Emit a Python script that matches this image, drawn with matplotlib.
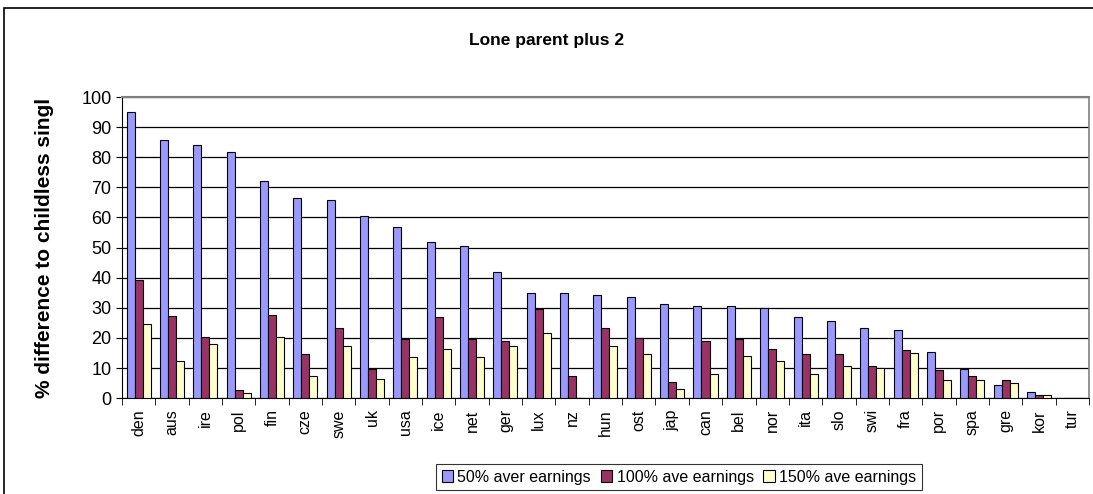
import matplotlib.pyplot as plt
import numpy as np
from matplotlib.patches import Rectangle

plt.rcParams['font.family'] = ['Liberation Sans', 'DejaVu Sans']

countries = ["den", "aus", "ire", "pol", "fin", "cze", "swe", "uk", "usa", "ice",
             "net", "ger", "lux", "nz", "hun", "ost", "jap", "can", "bel", "nor",
             "ita", "slo", "swi", "fra", "por", "spa", "gre", "kor", "tur"]
earn_50 = [95.0, 85.7, 84.0, 81.8, 72.0, 66.4, 65.8, 60.5, 57.0, 51.7,
           50.4, 42.0, 34.9, 34.9, 34.4, 33.5, 31.3, 30.7, 30.7, 30.0,
           27.0, 25.6, 23.4, 22.5, 15.4, 9.7, 4.4, 2.1, 0.0]
earn_100 = [39.3, 27.4, 20.2, 2.8, 27.7, 14.5, 23.4, 9.7, 19.5, 27.0,
            19.5, 18.9, 29.6, 7.4, 23.3, 20.0, 5.5, 18.9, 19.5, 16.4,
            14.5, 14.5, 10.7, 15.9, 9.2, 7.5, 6.1, 1.2, 0.0]
earn_150 = [24.6, 12.3, 18.1, 1.8, 20.3, 7.5, 17.2, 6.5, 13.7, 16.4,
            13.7, 17.2, 21.5, 0.0, 17.2, 14.5, 3.0, 7.9, 14.1, 12.3,
            7.9, 10.7, 10.1, 15.0, 6.1, 6.1, 5.2, 1.2, 0.0]
series_labels = ["50% aver earnings", "100% ave earnings", "150% ave earnings"]
colors = ["#9999FF", "#993366", "#FFFFCC"]

fig = plt.figure(figsize=(10.93, 4.94), dpi=100)
ax = fig.add_axes([0.1116, 0.194, 0.8847, 0.6096])

# outer chart frame
fig.patches.append(Rectangle((4 / 1093, -0.01), 1.02, 1 - 8 / 494 + 0.01,
                             transform=fig.transFigure, fill=False,
                             edgecolor="black", linewidth=1.2))

x = np.arange(len(countries))
w = 0.24
for i, (vals, lab, col) in enumerate(zip([earn_50, earn_100, earn_150], series_labels, colors)):
    ax.bar(x + (i - 1) * w, vals, w, color=col, edgecolor="black", linewidth=0.8,
           label=lab, zorder=3)

ax.set_xlim(-0.5, len(countries) - 0.5)
ax.set_ylim(0, 100)
ax.set_yticks(range(0, 101, 10))
ax.tick_params(axis="y", labelsize=13, length=4, direction="out")
ax.set_xticks(x)
ax.set_xticklabels(countries, rotation=90, fontsize=11.5)
ax.tick_params(axis="x", which="major", length=0, pad=8)
ax.set_xticks(np.arange(-0.5, len(countries), 1), minor=True)
ax.tick_params(axis="x", which="minor", length=5, direction="out")

ax.grid(axis="y", color="black", linewidth=0.9, zorder=0)
ax.spines["top"].set_color("#808080")
ax.spines["top"].set_linewidth(1.5)
ax.spines["right"].set_color("#808080")
ax.spines["right"].set_linewidth(1.2)

ax.set_ylabel("% difference to childless singl", fontsize=15, fontweight="bold", labelpad=20)
fig.text(0.5, 1 - 40 / 494, "Lone parent plus 2", ha="center", va="center",
         fontsize=12.5, fontweight="bold")

leg = fig.legend(loc="center", bbox_to_anchor=(679 / 1093, 1 - 477 / 494), ncol=3,
                 fontsize=11.5, frameon=True, fancybox=False, edgecolor="black",
                 handlelength=0.7, handleheight=0.7, handletextpad=0.3,
                 columnspacing=0.6, borderpad=0.35)
leg.get_frame().set_linewidth(0.8)

fig.savefig("out.png", dpi=100)
